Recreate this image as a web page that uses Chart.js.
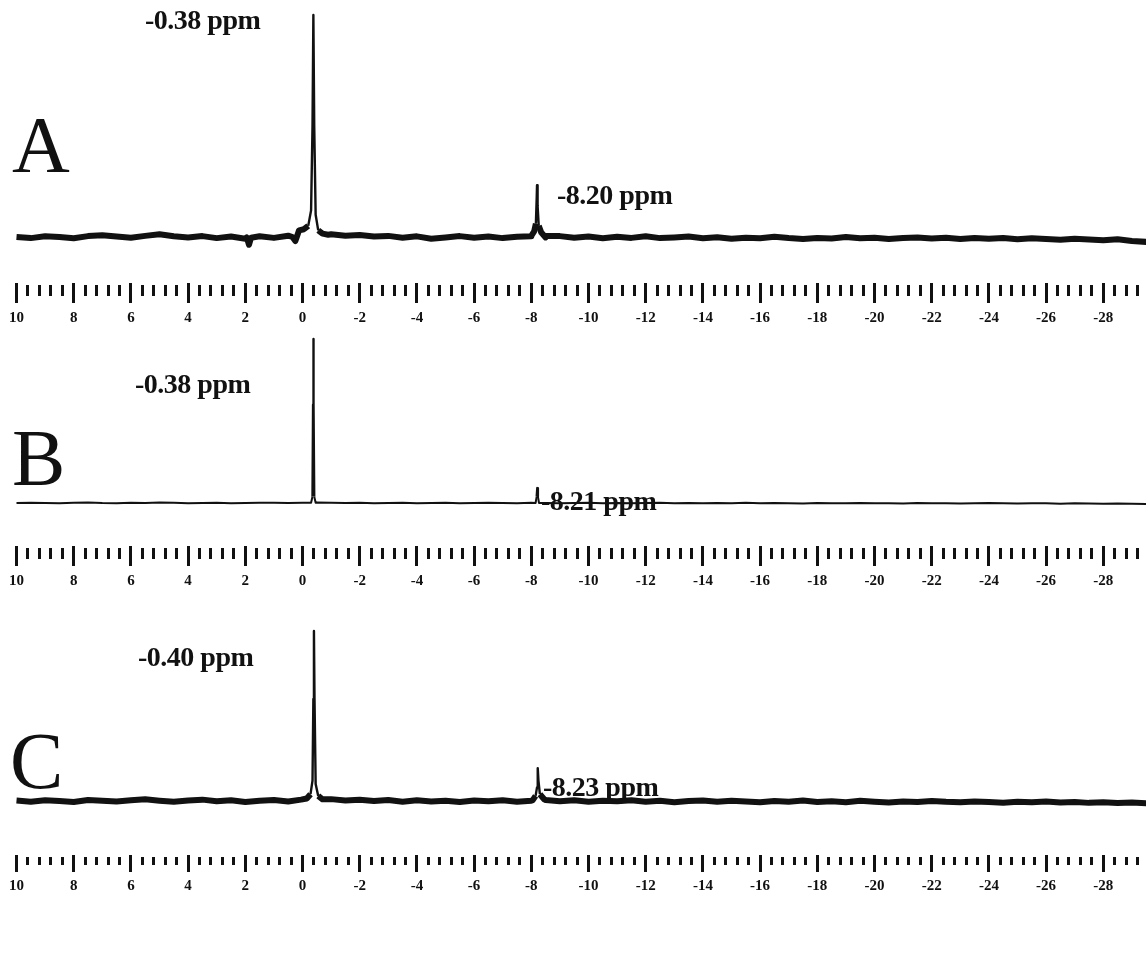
<!DOCTYPE html>
<html>
<head>
<meta charset="utf-8">
<title>31P NMR spectra A, B, C</title>
<script src="https://cdn.jsdelivr.net/npm/chart.js@4.4.1/dist/chart.umd.min.js"></script>
<style>
  body { margin: 0; background: #fff; width: 1146px; height: 954px; position: relative; overflow: hidden;
         font-family: "Liberation Serif", "Times New Roman", serif; color: #111; }
  canvas { position: absolute; left: 0; }
  .ppm { position: absolute; font-size: 28px; font-weight: bold; line-height: 1; white-space: nowrap; letter-spacing: -0.5px; }
  .big { position: absolute; font-size: 80px; line-height: 1; }
</style>
</head>
<body>

<canvas id="specA" width="1146" height="340" style="top:0px"></canvas>
<canvas id="specB" width="1146" height="273" style="top:330px"></canvas>
<canvas id="specC" width="1146" height="297" style="top:615px"></canvas>

<div class="big" style="left:12px;top:105px">A</div>
<div class="big" style="left:12px;top:418px">B</div>
<div class="big" style="left:10px;top:721px">C</div>

<div class="ppm" style="left:145px;top:6px">-0.38 ppm</div>
<div class="ppm" style="left:557px;top:181px">-8.20 ppm</div>
<div class="ppm" style="left:135px;top:370px">-0.38 ppm</div>
<div class="ppm" style="left:541px;top:487px">-8.21 ppm</div>
<div class="ppm" style="left:138px;top:643px">-0.40 ppm</div>
<div class="ppm" style="left:543px;top:773px">-8.23 ppm</div>

<script>
// chemical shift grid for the baseline (ppm)
var gridPpm = [10, 9.5, 9, 8.5, 8, 7.5, 7, 6.5, 6, 5.5, 5, 4.5, 4, 3.5, 3, 2.5, 2, 1.5, 1, 0.5,
  0, -0.5, -1, -1.5, -2, -2.5, -3, -3.5, -4, -4.5, -5, -5.5, -6, -6.5, -7, -7.5, -8, -8.5, -9, -9.5,
  -10, -10.5, -11, -11.5, -12, -12.5, -13, -13.5, -14, -14.5, -15, -15.5, -16, -16.5, -17, -17.5, -18, -18.5, -19, -19.5,
  -20, -20.5, -21, -21.5, -22, -22.5, -23, -23.5, -24, -24.5, -25, -25.5, -26, -26.5, -27, -27.5, -28, -28.5, -29, -29.5];

// baseline intensities (main peak = 100)
var baseA = [0, -0.5, 0.3, 0, -0.6, 0.4, 0.8, 0.2, -0.3, 0.5, 1.2, 0.3, -0.2, 0.4, -0.5, 0.2, -0.8, 0.3, -0.4, 0.6,
  1.0, 0.8, 1.2, 0.6, 0.9, 0.2, 0.5, -0.3, 0.3, -0.8, -0.2, 0.4, -0.3, 0.2, -0.5, 0.1, 0.3, -0.2, 0.4, -0.3,
  0.2, -0.6, 0.1, -0.4, 0.3, -0.5, -0.2, 0.2, -0.6, -0.1, -0.8, -0.3, -0.6, 0.1, -0.5, -0.9, -0.4, -0.7, 0, -0.6,
  -0.3, -0.9, -0.4, -0.2, -0.7, -0.3, -0.9, -0.5, -0.8, -0.4, -1.0, -0.6, -0.9, -1.2, -0.8, -1.1, -1.5, -1.0, -1.8, -2.2];
var baseB = [0, 0.2, 0, -0.2, 0.1, 0.3, 0, -0.1, 0.2, 0, 0.3, 0.1, -0.2, 0, 0.2, -0.1, 0, 0.2, 0.1, 0,
  0.2, 0.3, 0.1, 0, 0.2, -0.1, 0, 0.1, -0.2, 0, 0.1, -0.1, 0, 0.2, 0, -0.1, 0.1, 0, -0.2, 0,
  0.1, -0.1, 0, -0.2, 0, 0.1, -0.1, 0, -0.2, 0, -0.1, 0.1, -0.2, 0, -0.1, -0.3, 0, -0.2, -0.1, 0,
  -0.2, -0.1, -0.3, 0, -0.2, -0.1, -0.3, -0.2, 0, -0.2, -0.3, -0.1, -0.2, -0.4, -0.2, -0.3, -0.5, -0.3, -0.4, -0.6];
var baseC = [0.3, -0.4, 0.5, 0, -0.6, 0.6, 0.2, -0.3, 0.4, 1.0, 0.2, -0.5, 0.3, 0.8, -0.2, 0.4, -0.6, 0.2, 0.6, -0.3,
  0.4, 0.5, 1.1, 0.3, 0.8, 0, 0.6, -0.4, 0.4, -0.3, 0.2, -0.6, 0.3, -0.2, 0.5, -0.4, 0.2, 0.6, -0.1, 0.4,
  -0.5, 0.2, -0.2, 0.5, -0.4, 0.1, -0.7, 0, 0.3, -0.5, 0.2, -0.3, -0.8, 0, -0.4, 0.3, -0.6, -0.2, -0.7, 0.1,
  -0.4, -0.9, -0.3, -0.6, 0, -0.5, -0.8, -0.3, -0.6, -1.0, -0.4, -0.7, -0.3, -0.9, -0.6, -1.1, -0.7, -1.2, -0.9, -1.4];

// peaks and spikes as [ppm, intensity], high ppm first
var mainA = [[0.35, 0], [0.25, -1.8], [0.2, 0], [0.12, 3], [-0.05, 3.5], [-0.2, 5], [-0.3, 12], [-0.35, 50],
  [-0.38, 100], [-0.41, 50], [-0.46, 10], [-0.55, 3], [-0.7, 1.5], [-0.9, 1]];
var minorA = [[-8.0, 0.5], [-8.1, 2.5], [-8.16, 6], [-8.19, 18], [-8.2, 23.3], [-8.22, 14], [-8.26, 5], [-8.35, 2], [-8.5, 0.5]];
var spikeA = [[1.95, -0.2], [1.87, -3.5], [1.8, -0.3]];

var mainB = [[-0.3, 0.1], [-0.35, 4], [-0.37, 60], [-0.38, 100], [-0.39, 60], [-0.41, 4], [-0.46, 0.1]];
var minorB = [[-8.15, 0], [-8.19, 4], [-8.21, 9.1], [-8.23, 4], [-8.27, 0]];

var mainC = [[0.05, 0.8], [-0.15, 1.5], [-0.28, 4], [-0.35, 12], [-0.38, 60], [-0.40, 100], [-0.42, 60],
  [-0.46, 10], [-0.55, 3], [-0.7, 1]];
var minorC = [[-8.05, 0.5], [-8.15, 3], [-8.2, 8], [-8.22, 15], [-8.23, 19.3], [-8.25, 12], [-8.3, 4], [-8.45, 1]];

// axis: 10 ppm sits 16.5 px from the left, 28.6 px per ppm
var xMax = 10 + 16.5 / 28.6;
var xMin = 10 - (1146 - 16.5) / 28.6;

function isMajor(v) {
  return Math.abs(Math.round(v * 10)) % 20 === 0;
}

function buildSpectrum(base, features) {
  var pts = [];
  gridPpm.forEach(function (p, i) {
    var inside = features.some(function (f) { return p < f[0][0] && p > f[f.length - 1][0]; });
    if (!inside) pts.push({ x: p, y: base[i] });
  });
  features.forEach(function (f) {
    f.forEach(function (q) { pts.push({ x: q[0], y: q[1] }); });
  });
  pts.sort(function (a, b) { return b.x - a.x; });
  return pts;
}

function drawPanel(id, panel, pts, thick) {
  var h = panel.axis - panel.top;
  var base = panel.base - panel.top;
  var peak = panel.peak - panel.top;
  var k = (base - peak) / 100;
  new Chart(document.getElementById(id), {
    type: 'line',
    data: {
      datasets: [{
        data: pts,
        borderColor: '#111',
        borderWidth: thick,
        pointRadius: 0,
        tension: 0,
        borderJoinStyle: 'round',
        segment: {
          borderWidth: function (c) { return (c.p0.parsed.y > 6 || c.p1.parsed.y > 6) ? 2.4 : thick; }
        }
      }]
    },
    options: {
      responsive: false,
      animation: false,
      events: [],
      layout: { padding: 0 },
      plugins: { legend: { display: false }, tooltip: { enabled: false } },
      scales: {
        x: {
          type: 'linear',
          reverse: true,
          min: xMin,
          max: xMax,
          afterFit: function (s) { s.height = 57; },
          afterBuildTicks: function (s) {
            s.ticks = s.ticks.filter(function (t) { return t.value <= 10.001 && t.value >= -29.21; });
          },
          border: { display: false },
          grid: {
            drawOnChartArea: false,
            tickLength: panel.tick,
            tickColor: '#111',
            tickWidth: 3,
            tickBorderDash: function (c) { return (c.tick && isMajor(c.tick.value)) ? [] : [0, 2, panel.tick - 9, 100]; }
          },
          ticks: {
            stepSize: 0.4,
            includeBounds: false,
            autoSkip: false,
            maxRotation: 0,
            padding: panel.pad,
            color: '#111',
            font: { family: 'Liberation Serif', weight: 'bold', size: 15 },
            callback: function (v) { return isMajor(v) ? String(Math.round(v)) : ''; }
          }
        },
        y: { display: false, min: -(h - base) / k, max: 100 + peak / k }
      }
    }
  });
}

drawPanel('specA', { top: 0, axis: 283, base: 237, peak: 15, tick: 20, pad: 6 }, buildSpectrum(baseA, [mainA, minorA, spikeA]), 6);
drawPanel('specB', { top: 330, axis: 546, base: 503, peak: 339, tick: 20, pad: 6 }, buildSpectrum(baseB, [mainB, minorB]), 2);
drawPanel('specC', { top: 615, axis: 855, base: 801, peak: 631, tick: 17, pad: 5 }, buildSpectrum(baseC, [mainC, minorC]), 6);
</script>
</body>
</html>
